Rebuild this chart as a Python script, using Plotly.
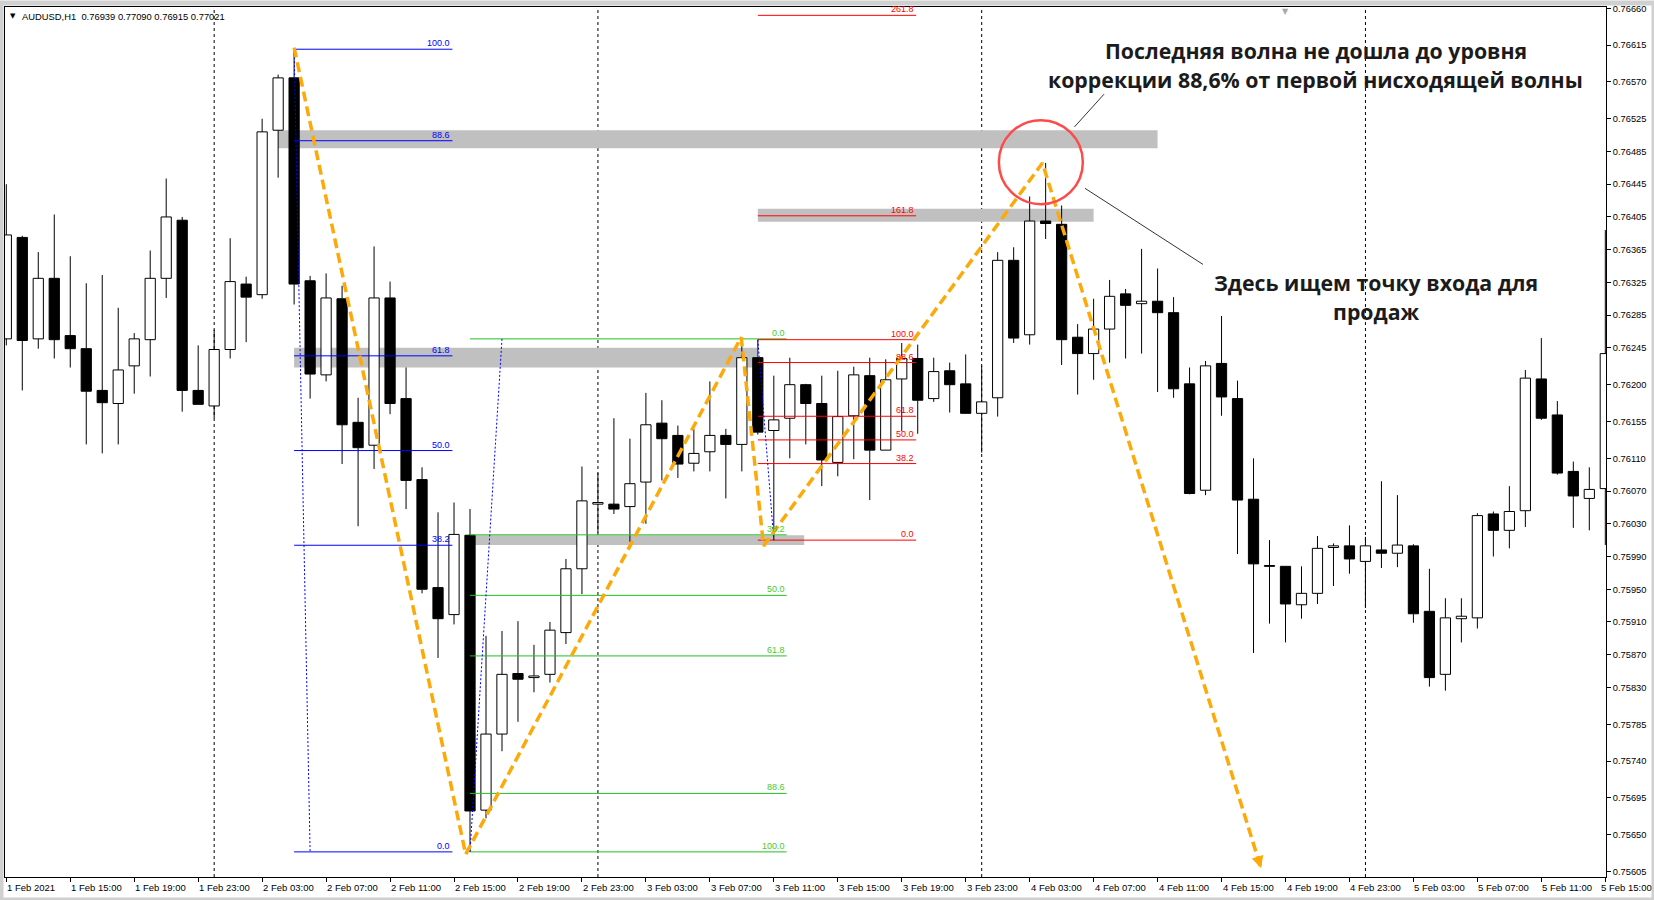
import plotly.graph_objects as go

# ---------------- data (AUDUSD H1, index 0 = 1 Feb 2021 11:00) ----------------
opens = [0.76256, 0.76380, 0.76256, 0.76330, 0.76260, 0.76244, 0.76193, 0.76177, 0.76223, 0.76255,
         0.76330, 0.76401, 0.76193, 0.76174, 0.76243, 0.76323, 0.76310, 0.76511, 0.76575, 0.76327,
         0.76212, 0.76305, 0.76154, 0.76126, 0.76306, 0.76183, 0.76084, 0.75952, 0.75919, 0.76016,
         0.75680, 0.75773, 0.75847, 0.75842, 0.75846, 0.75897, 0.75975, 0.76054, 0.76054, 0.76051,
         0.76081, 0.76153, 0.76138, 0.76104, 0.76118, 0.76138, 0.76127, 0.76233, 0.76144, 0.76159,
         0.76200, 0.76177, 0.76105, 0.76162, 0.76211, 0.76120, 0.76207, 0.76232, 0.76183, 0.76217,
         0.76201, 0.76165, 0.76184, 0.76352, 0.76261, 0.76400, 0.76396, 0.76258, 0.76238, 0.76268,
         0.76311, 0.76299, 0.76302, 0.76288, 0.76201, 0.76071, 0.76226, 0.76183, 0.76060, 0.75979,
         0.75978, 0.75931, 0.75945, 0.76001, 0.76003, 0.75984, 0.75998, 0.75994, 0.76003, 0.75923,
         0.75846, 0.75914, 0.75915, 0.76042, 0.76022, 0.76046, 0.76207, 0.76163, 0.76094, 0.76061,
         0.76073]
highs = [0.76445, 0.76382, 0.76362, 0.76408, 0.76357, 0.76324, 0.76334, 0.76294, 0.76263, 0.76364,
         0.76452, 0.76405, 0.76248, 0.76267, 0.76379, 0.76332, 0.76525, 0.76579, 0.76610, 0.76333,
         0.76336, 0.76321, 0.76184, 0.76369, 0.76326, 0.76221, 0.76099, 0.76044, 0.76056, 0.76048,
         0.75893, 0.75899, 0.75911, 0.75882, 0.75910, 0.75987, 0.76100, 0.76092, 0.76159, 0.76134,
         0.76190, 0.76181, 0.76150, 0.76146, 0.76204, 0.76146, 0.76256, 0.76255, 0.76211, 0.76233,
         0.76201, 0.76211, 0.76217, 0.76222, 0.76233, 0.76231, 0.76251, 0.76249, 0.76233, 0.76227,
         0.76237, 0.76223, 0.76362, 0.76368, 0.76430, 0.76471, 0.76419, 0.76274, 0.76305, 0.76328,
         0.76317, 0.76366, 0.76342, 0.76307, 0.76221, 0.76229, 0.76284, 0.76205, 0.76110, 0.76010,
         0.75978, 0.75978, 0.76015, 0.76006, 0.76028, 0.76014, 0.76082, 0.76065, 0.76005, 0.75975,
         0.75939, 0.75939, 0.76043, 0.76045, 0.76076, 0.76218, 0.76257, 0.76180, 0.76106, 0.76099,
         0.76389]
lows = [0.76248, 0.76193, 0.76244, 0.76232, 0.76221, 0.76127, 0.76116, 0.76127, 0.76189, 0.76210,
        0.76306, 0.76167, 0.76176, 0.76159, 0.76232, 0.76252, 0.76305, 0.76453, 0.76298, 0.76183,
        0.76204, 0.76103, 0.76027, 0.76097, 0.76164, 0.76048, 0.75945, 0.75866, 0.75907, 0.75629,
        0.75670, 0.75752, 0.75788, 0.75824, 0.75836, 0.75883, 0.75944, 0.76019, 0.76042, 0.76008,
        0.76030, 0.76083, 0.76086, 0.76094, 0.76094, 0.76061, 0.76094, 0.76139, 0.76010, 0.76110,
        0.76127, 0.76076, 0.76088, 0.76109, 0.76059, 0.76120, 0.76143, 0.76140, 0.76179, 0.76166,
        0.76165, 0.76117, 0.76161, 0.76251, 0.76249, 0.76378, 0.76224, 0.76188, 0.76206, 0.76227,
        0.76232, 0.76238, 0.76191, 0.76184, 0.76066, 0.76065, 0.76162, 0.75993, 0.75872, 0.75908,
        0.75885, 0.75914, 0.75932, 0.75954, 0.75969, 0.75927, 0.75976, 0.75977, 0.75909, 0.75831,
        0.75826, 0.75885, 0.75902, 0.75990, 0.76000, 0.76026, 0.76157, 0.76090, 0.76025, 0.76022,
        0.76004]
closes = [0.76383, 0.76254, 0.76330, 0.76255, 0.76244, 0.76192, 0.76178, 0.76218, 0.76256, 0.76330,
          0.76405, 0.76193, 0.76176, 0.76243, 0.76326, 0.76307, 0.76509, 0.76575, 0.76323, 0.76213,
          0.76306, 0.76151, 0.76123, 0.76306, 0.76177, 0.76083, 0.75950, 0.75914, 0.76017, 0.75679,
          0.75773, 0.75846, 0.75840, 0.75844, 0.75900, 0.75975, 0.76058, 0.76056, 0.76048, 0.76079,
          0.76151, 0.76134, 0.76103, 0.76116, 0.76138, 0.76127, 0.76233, 0.76142, 0.76157, 0.76200,
          0.76177, 0.76108, 0.76161, 0.76212, 0.76120, 0.76206, 0.76232, 0.76181, 0.76216, 0.76200,
          0.76165, 0.76179, 0.76352, 0.76257, 0.76400, 0.76397, 0.76255, 0.76238, 0.76268, 0.76308,
          0.76297, 0.76302, 0.76288, 0.76195, 0.76067, 0.76223, 0.76185, 0.76059, 0.75981, 0.75978,
          0.75932, 0.75945, 0.76000, 0.76003, 0.75987, 0.76003, 0.75994, 0.76004, 0.75920, 0.75842,
          0.75915, 0.75917, 0.76040, 0.76022, 0.76045, 0.76208, 0.76159, 0.76092, 0.76064, 0.76072,
          0.76238]

tick_idx = list(range(0, 101, 4))
tick_labels = ["1 Feb 2021", "1 Feb 15:00", "1 Feb 19:00", "1 Feb 23:00", "2 Feb 03:00", "2 Feb 07:00",
               "2 Feb 11:00", "2 Feb 15:00", "2 Feb 19:00", "2 Feb 23:00", "3 Feb 03:00", "3 Feb 07:00",
               "3 Feb 11:00", "3 Feb 15:00", "3 Feb 19:00", "3 Feb 23:00", "4 Feb 03:00", "4 Feb 07:00",
               "4 Feb 11:00", "4 Feb 15:00", "4 Feb 19:00", "4 Feb 23:00", "5 Feb 03:00", "5 Feb 07:00",
               "5 Feb 11:00", "5 Feb 15:00"]
price_ticks = [0.76660, 0.76615, 0.76570, 0.76525, 0.76485, 0.76445, 0.76405, 0.76365, 0.76325,
               0.76285, 0.76245, 0.76200, 0.76155, 0.76110, 0.76070, 0.76030, 0.75990, 0.75950,
               0.75910, 0.75870, 0.75830, 0.75785, 0.75740, 0.75695, 0.75650, 0.75605]
day_starts = [13, 37, 61, 85]

# hand-drawn zigzag (bar index, price)
zz_x = [18, 28.73, 45.96, 47.36, 64.8, 78.47]
zz_y = [0.76612, 0.75626, 0.76258, 0.76003, 0.76471, 0.75609]

# Fibonacci tools
blue_ratios = [1.0, 0.886, 0.618, 0.5, 0.382, 0.0]
blue_labels = ["100.0", "88.6", "61.8", "50.0", "38.2", "0.0"]
blue_x = [18, 27.9]
green_ratios = [0.0, 0.382, 0.5, 0.618, 0.886, 1.0]
green_labels = ["0.0", "38.2", "50.0", "61.8", "88.6", "100.0"]
green_x = [29, 48.8]
red_ratios = [2.618, 1.618, 1.0, 0.886, 0.618, 0.5, 0.382, 0.0]
red_labels = ["261.8", "161.8", "100.0", "88.6", "61.8", "50.0", "38.2", "0.0"]
red_x = [47, 56.9]

# gray zones
band_x0 = [17.0, 18.0, 29.0, 47.0]
band_x1 = [72.0, 46.95, 49.9, 68.0]
band_lo = [0.76489, 0.76221, 0.76004, 0.76399]
band_hi = [0.76511, 0.76245, 0.76016, 0.76415]

text_top = ["Последняя волна не дошла до уровня", "коррекции 88,6% от первой нисходящей волны"]
text_bottom = ["Здесь ищем точку входа для", "продаж"]

# ---------------- figure ----------------
fig = go.Figure()

n = len(opens)
wx, wy = [], []
for i in range(n):
    top = max(opens[i], closes[i])
    bot = min(opens[i], closes[i])
    if highs[i] > top:
        wx += [i, i, None]
        wy += [top, highs[i], None]
    if lows[i] < bot:
        wx += [i, i, None]
        wy += [lows[i], bot, None]
fig.add_trace(go.Scatter(x=wx, y=wy, mode="lines", line=dict(color="black", width=1),
                         hoverinfo="skip", showlegend=False))

for up in (True, False):
    xs, bases, hs = [], [], []
    for i in range(n):
        if (closes[i] >= opens[i]) == up:
            xs.append(i)
            bases.append(min(opens[i], closes[i]))
            hs.append(max(abs(closes[i] - opens[i]), 0.000004))
    fig.add_trace(go.Bar(x=xs, y=hs, base=bases, width=0.64,
                         marker=dict(color="white" if up else "black",
                                     line=dict(color="black", width=1)),
                         hoverinfo="skip", showlegend=False))

annotations = []
shapes = []

def fib(ratios, labels, xr, price_fn, color, label_color):
    fx, fy = [], []
    for r, lab in zip(ratios, labels):
        p = price_fn(r)
        fx += [xr[0], xr[1], None]
        fy += [p, p, None]
        annotations.append(dict(x=xr[1], y=p, xref="x", yref="y", text=lab, showarrow=False,
                                xanchor="right", yanchor="bottom", yshift=-1,
                                font=dict(family="Liberation Sans", size=9, color=label_color)))
    fig.add_trace(go.Scatter(x=fx, y=fy, mode="lines", line=dict(color=color, width=1),
                             hoverinfo="skip", showlegend=False))

b_hi, b_lo = highs[18], lows[29]
fib(blue_ratios, blue_labels, blue_x, lambda r: b_lo + r * (b_hi - b_lo), "#0000ff", "#0000ff")
g_hi, g_lo = highs[46], lows[29]
fib(green_ratios, green_labels, green_x, lambda r: g_hi - r * (g_hi - g_lo), "#22c022", "#44cc33")
r_hi, r_lo = highs[47], lows[48]
fib(red_ratios, red_labels, red_x, lambda r: r_lo + r * (r_hi - r_lo), "#ff0000", "#ff0000")

# fib anchor dotted lines
for (xa, ya, xb, yb) in [(18, b_hi, 19, b_lo), (29, g_lo, 31, g_hi), (47, r_hi, 48, r_lo)]:
    fig.add_trace(go.Scatter(x=[xa, xb], y=[ya, yb], mode="lines",
                             line=dict(color="#0000ff", width=1, dash="2px,2px"),
                             hoverinfo="skip", showlegend=False))

# zigzag
fig.add_trace(go.Scatter(x=zz_x, y=zz_y, mode="lines",
                         line=dict(color="#FBAA0A", width=3.5, dash="10px,5px"),
                         hoverinfo="skip", showlegend=False))
annotations.append(dict(x=zz_x[-1], y=zz_y[-1], xref="x", yref="y", ax=-3.5, ay=-11.5,
                        axref="pixel", ayref="pixel", text="", showarrow=True,
                        arrowhead=2, arrowsize=0.8, arrowwidth=3, arrowcolor="#FBAA0A"))

# bands
for x0, x1, lo, hi in zip(band_x0, band_x1, band_lo, band_hi):
    shapes.append(dict(type="rect", xref="x", yref="y", x0=x0, x1=x1, y0=lo, y1=hi,
                       fillcolor="#c0c0c0", line=dict(width=0), layer="below"))

# day separators
for d in day_starts:
    shapes.append(dict(type="line", xref="x", yref="paper", x0=d, x1=d, y0=0, y1=1,
                       line=dict(color="black", width=1, dash="3px,3px"), layer="below"))

# red circle around last peak
shapes.append(dict(type="circle", xref="x", yref="y", xsizemode="pixel", ysizemode="pixel",
                   xanchor=64.7, yanchor=0.76472, x0=-42, x1=42, y0=-42, y1=42,
                   line=dict(color="#ff4a4a", width=2.5)))

# callout lines
shapes.append(dict(type="line", xref="x", yref="y", x0=66.8, y0=0.76515, x1=68.65, y1=0.76555,
                   line=dict(color="#333333", width=1)))
shapes.append(dict(type="line", xref="x", yref="y", x0=67.46, y0=0.76440, x1=74.84, y1=0.76347,
                   line=dict(color="#333333", width=1)))

# outer frame
shapes.append(dict(type="rect", xref="paper", yref="paper", x0=-4 / 1602, x1=1650 / 1602,
                   y0=-23 / 873, y1=877 / 873, line=dict(color="#d0d0d0", width=5),
                   fillcolor="rgba(0,0,0,0)"))

big_font = dict(family="Open Sans", size=21.3, color="#1b1b1b")
for txt, y in zip(text_top, [0.76609, 0.76573]):
    annotations.append(dict(x=81.9, y=y, xref="x", yref="y", text="<b>" + txt + "</b>",
                            showarrow=False, font=big_font))
for txt, y in zip(text_bottom, [0.76325, 0.76289]):
    annotations.append(dict(x=85.66, y=y, xref="x", yref="y", text="<b>" + txt + "</b>",
                            showarrow=False, font=big_font))

# x tick labels (left-aligned at tick, MT4 style); last one nudged to stay inside the page
for k, (ti, lab) in enumerate(zip(tick_idx, tick_labels)):
    annotations.append(dict(x=ti, y=0, xref="x", yref="paper", text=lab, showarrow=False,
                            xanchor="left", yanchor="top", yshift=-3,
                            xshift=-6 if k == len(tick_idx) - 1 else -1,
                            font=dict(family="Liberation Sans", size=9.5, color="black")))

# header
annotations.append(dict(x=0, y=1, xref="paper", yref="paper", text="▼", showarrow=False,
                        xanchor="center", yanchor="middle", xshift=8, yshift=-9,
                        font=dict(family="DejaVu Sans", size=7, color="black")))
annotations.append(dict(x=0, y=1, xref="paper", yref="paper",
                        text="AUDUSD,H1\u00a0\u00a00.76939 0.77090 0.76915 0.77021", showarrow=False,
                        xanchor="left", yanchor="middle", xshift=15, yshift=-9,
                        font=dict(family="Liberation Sans", size=9.4, color="black")))
annotations.append(dict(x=80, y=1, xref="x", yref="paper", text="▼", showarrow=False,
                        xanchor="center", yanchor="top", yshift=2,
                        font=dict(family="DejaVu Sans", size=8, color="#a8a8a8")))

fig.update_layout(
    width=1654, height=900,
    margin=dict(l=4, r=48, t=4, b=23, pad=0),
    paper_bgcolor="white", plot_bgcolor="white",
    barmode="overlay", showlegend=False,
    font=dict(family="Liberation Sans", size=9.3, color="black"),
    shapes=shapes, annotations=annotations,
    xaxis=dict(range=[-0.081, 100.044], tickvals=tick_idx, ticks="outside", ticklen=4,
               tickcolor="black", showticklabels=False, showgrid=False, zeroline=False,
               showline=True, mirror=True, linecolor="black", linewidth=1, fixedrange=True),
    yaxis=dict(range=[0.755983, 0.766616], side="right", tickvals=price_ticks,
               ticktext=["%.5f" % v for v in price_ticks], ticks="outside", ticklen=4,
               tickcolor="black", showgrid=False, zeroline=False, showline=True, mirror=True,
               linecolor="black", linewidth=1, tickfont=dict(size=9.3, color="black"),
               ticklabeloverflow="allow", fixedrange=True),
)

fig.write_html("out.html", config={"displayModeBar": False},
               post_script="document.body.style.margin='0';document.body.style.overflow='hidden';")
